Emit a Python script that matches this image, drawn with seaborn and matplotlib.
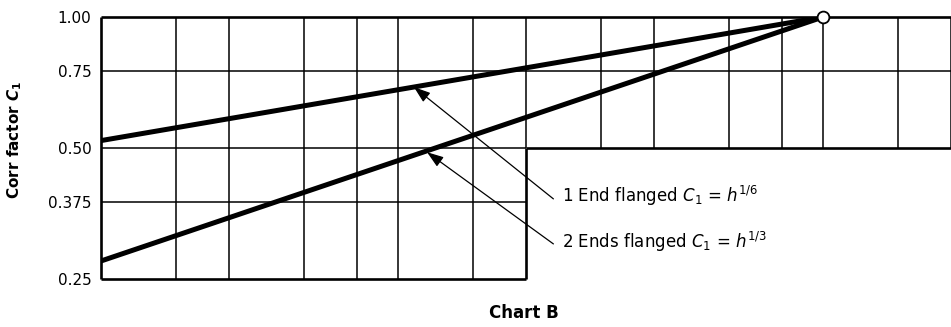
import matplotlib
matplotlib.use("Agg")
import matplotlib.pyplot as plt
from matplotlib.ticker import NullLocator, FixedLocator
import seaborn as sns
import pandas as pd

# ---- data ----
h_grid = [0.02, 0.03, 0.04, 0.06, 0.08, 0.1, 0.15, 0.2, 0.3, 0.4, 0.6, 0.8, 1.0, 1.5, 2.0]
c_ticks = [0.25, 0.375, 0.50, 0.75, 1.00]
c_tick_labels = ["0.25", "0.375", "0.50", "0.75", "1.00"]
h_line = [0.02, 1.0]
c_one_end = [0.52, 1.0]      # 1 End flanged  C1 = h^(1/6)
c_two_ends = [0.275, 1.0]    # 2 Ends flanged C1 = h^(1/3)
h_lower_limit = 0.2          # lower (0.25-0.50) panel ends here
h_min, h_max = 0.02, 2.0
label_one = r"1 End flanged $C_1$ = $h^{1/6}$"
label_two = r"2 Ends flanged $C_1$ = $h^{1/3}$"
arrow_one = {"tip": (0.109, 0.69), "tail": (0.232, 0.382), "text": (0.243, 0.376)}
arrow_two = {"tip": (0.117, 0.489), "tail": (0.232, 0.301), "text": (0.243, 0.295)}

sns.set_style("white")
plt.rcParams["font.family"] = ["DejaVu Sans"]
plt.rcParams["mathtext.fontset"] = "dejavusans"
plt.rcParams["text.color"] = "black"
plt.rcParams["ytick.color"] = "black"
plt.rcParams["ytick.labelcolor"] = "black"

fig = plt.figure(figsize=(9.51, 3.27), dpi=100)
ax = fig.add_axes([101/951, 1 - 279/327, (951 - 101)/951, (279 - 17)/327])
ax.set_xscale("log")
ax.set_yscale("log")
ax.set_xlim(h_min, h_max)
ax.set_ylim(0.25, 1.0)
for s in ax.spines.values():
    s.set_visible(False)

grid_lw = 1.1
frame_lw = 1.9
k = "black"

# vertical grid lines
for h in h_grid:
    if h <= h_lower_limit:
        if h == h_lower_limit:
            ax.vlines(h, c_ticks[0], c_ticks[2], color=k, lw=frame_lw, clip_on=False)
            ax.vlines(h, c_ticks[2], c_ticks[-1], color=k, lw=grid_lw, clip_on=False)
        else:
            lw = frame_lw if h == h_min else grid_lw
            ax.vlines(h, c_ticks[0], c_ticks[-1], color=k, lw=lw, clip_on=False)
    else:
        ax.vlines(h, c_ticks[2], c_ticks[-1], color=k, lw=grid_lw, clip_on=False)

# horizontal grid lines
ax.hlines(c_ticks[-1], h_min, h_max, color=k, lw=frame_lw, clip_on=False)
ax.hlines(c_ticks[3], h_min, h_max, color=k, lw=grid_lw, clip_on=False)
ax.hlines(c_ticks[2], h_min, h_lower_limit, color=k, lw=grid_lw, clip_on=False)
ax.hlines(c_ticks[2], h_lower_limit, h_max, color=k, lw=frame_lw, clip_on=False)
ax.hlines(c_ticks[1], h_min, h_lower_limit, color=k, lw=grid_lw, clip_on=False)
ax.hlines(c_ticks[0], h_min, h_lower_limit, color=k, lw=frame_lw, clip_on=False)

# data lines
df = pd.DataFrame({
    "h": h_line + h_line,
    "C1": c_one_end + c_two_ends,
    "case": ["one"] * len(h_line) + ["two"] * len(h_line),
})
sns.lineplot(data=df, x="h", y="C1", units="case", estimator=None, color=k,
             lw=3.6, ax=ax, legend=False, solid_capstyle="butt", zorder=5)
ax.plot([h_line[-1]], [c_one_end[-1]], "o", ms=8.5, mfc="white", mec=k, mew=1.3,
        clip_on=False, zorder=6)

# annotations
for lab, a in ((label_one, arrow_one), (label_two, arrow_two)):
    ax.annotate("", xy=a["tip"], xytext=a["tail"],
                arrowprops=dict(arrowstyle="-|>,head_length=1.0,head_width=0.35",
                                color=k, lw=0.9, shrinkA=0, shrinkB=0), zorder=7)
    ax.text(a["text"][0], a["text"][1], lab, fontsize=12, va="baseline", ha="left",
            color=k)

ax.xaxis.set_major_locator(NullLocator())
ax.xaxis.set_minor_locator(NullLocator())
ax.yaxis.set_major_locator(FixedLocator(c_ticks))
ax.yaxis.set_minor_locator(NullLocator())
ax.set_yticklabels(c_tick_labels)
ax.tick_params(axis="y", length=0, pad=7, labelsize=11, labelcolor=k)
ax.set_xlabel("")
ax.set_ylabel("")

fig.text(15/951, 1 - 140/327, r"Corr factor $\mathbfit{C}_\mathbf{1}$", rotation=90,
         fontsize=11, fontweight="bold", ha="center", va="center", color=k)
fig.text(524/951, 1 - 313/327, "Chart B", fontsize=12, fontweight="bold",
         ha="center", va="center", color=k)

fig.savefig("out.png", dpi=100)
